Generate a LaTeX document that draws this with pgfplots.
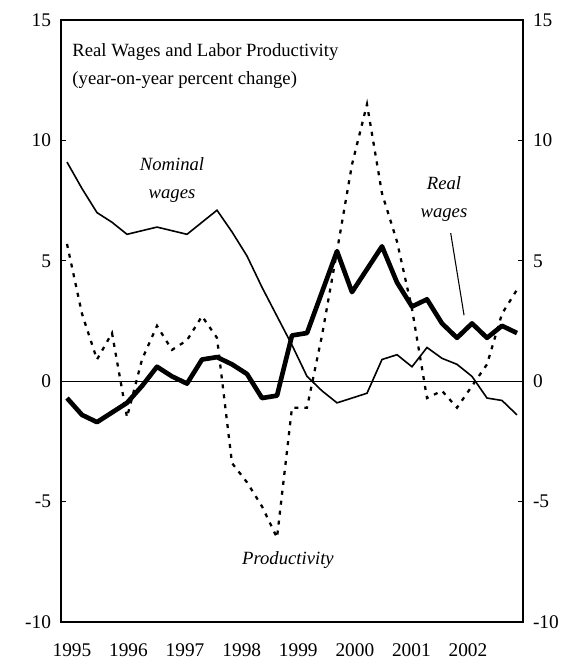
\documentclass[border=0pt]{standalone}
\usepackage{fontspec}
\setmainfont{Liberation Serif}
\usepackage{pgfplots}
\pgfplotsset{compat=1.18}

% quarterly, 1995Q1 = 0
\pgfplotstableread{
k nom real prod
0 9.1 -0.7 5.7
1 8.0 -1.4 2.8
2 7.0 -1.7 0.9
3 6.6 -1.3 2.0
4 6.1 -0.9 -1.5
5 6.25 -0.2 0.9
6 6.4 0.6 2.3
7 6.25 0.2 1.3
8 6.1 -0.1 1.7
9 6.6 0.9 2.7
10 7.1 1.0 1.8
11 6.2 0.7 -3.4
12 5.2 0.3 -4.2
13 3.9 -0.7 -5.2
14 2.7 -0.6 -6.5
15 1.5 1.9 -1.1
16 0.2 2.0 -1.1
17 -0.4 3.7 1.9
18 -0.9 5.4 5.4
19 -0.7 3.7 9.0
20 -0.5 4.65 11.5
21 0.9 5.6 7.8
22 1.1 4.1 5.8
23 0.6 3.1 3.0
24 1.4 3.4 -0.7
25 0.95 2.4 -0.4
26 0.7 1.8 -1.1
27 0.2 2.4 -0.2
28 -0.7 1.8 0.7
29 -0.8 2.3 2.8
30 -1.4 2.0 3.8
}\wages

\begin{document}
\begin{tikzpicture}
\path[use as bounding box] (-45.75pt,-35.25pt) rectangle (385.5pt,466.5pt);
\begin{axis}[scale only axis,width=346.5pt,height=451.5pt,at={(0,0)},anchor=south west,
  xmin=-0.4,xmax=30.4,ymin=-10,ymax=15,
  ytick={-10,-5,0,5,10,15},ytick pos=both,yticklabel pos=left,
  xtick={0.33,4.1,7.87,11.65,15.42,19.19,22.96,26.73},
  xticklabels={1995,1996,1997,1998,1999,2000,2001,2002},
  xtick style={draw=none},xticklabel style={yshift=-13pt},
  yticklabel style={xshift=-4pt},
  tick align=inside,major tick length=4pt,
  axis line style={line width=0.9pt},tick style={black,line width=0.8pt},
  tick label style={font=\fontsize{14.5}{16}\selectfont},
  /pgf/number format/assume math mode=true,
  clip=false]
\draw[line width=0.8pt] (axis cs:-0.4,0) -- (axis cs:30.4,0);
\addplot[black,line width=1.2pt] table[x=k,y=nom] {\wages};
\addplot[black,line width=3.5pt,line join=round] table[x=k,y=real] {\wages};
\addplot[black,line width=1.7pt,dash pattern=on 3pt off 4.5pt] table[x=k,y=prod] {\wages};
\node[anchor=west,font=\fontsize{14}{16}\selectfont] at (axis cs:0.05,13.65) {Real Wages and Labor Productivity};
\node[anchor=west,font=\fontsize{14}{16}\selectfont] at (axis cs:0.05,12.5) {(year-on-year percent change)};
\node[align=center,font=\fontsize{14}{21}\selectfont\itshape] at (axis cs:7.0,8.35) {Nominal\\wages};
\node[align=center,font=\fontsize{14}{21}\selectfont\itshape] at (axis cs:25.13,7.56) {Real\\wages};
\draw[line width=0.8pt] (axis cs:25.58,6.15) -- (axis cs:26.47,2.74);
\node[font=\fontsize{14}{16}\selectfont\itshape] at (axis cs:14.73,-7.44) {Productivity};
\end{axis}
\begin{axis}[scale only axis,width=346.5pt,height=451.5pt,at={(0,0)},anchor=south west,
  xmin=-0.4,xmax=30.4,ymin=-10,ymax=15,hide x axis,axis y line*=right,
  ytick={-10,-5,0,5,10,15},yticklabel style={xshift=4pt},
  tick align=inside,major tick length=4pt,
  axis line style={line width=0.9pt,-},tick style={black,line width=0.8pt},
  tick label style={font=\fontsize{14.5}{16}\selectfont},
  /pgf/number format/assume math mode=true]
\addplot[draw=none] coordinates {(0,0)};
\end{axis}
\end{tikzpicture}
\end{document}
